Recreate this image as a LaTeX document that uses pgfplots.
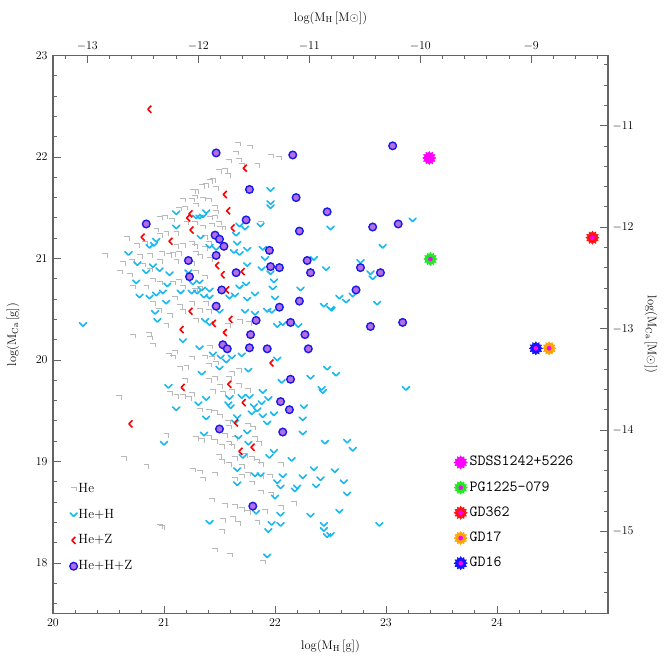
\documentclass[border=0pt]{standalone}
\usepackage{fontspec}
\usepackage{pgfplots}
\pgfplotsset{compat=1.18}
\definecolor{hegray}{RGB}{185,185,185}
\definecolor{hehcyan}{RGB}{25,185,240}
\definecolor{hezred}{RGB}{255,0,0}
\definecolor{circfill}{RGB}{180,110,225}
\definecolor{circline}{RGB}{25,25,235}
\definecolor{axisgray}{RGB}{100,100,100}
\definecolor{sdss}{RGB}{255,0,255}
\definecolor{pgg}{RGB}{30,235,30}
\definecolor{gdred}{RGB}{255,20,20}
\definecolor{gdorange}{RGB}{255,165,0}
\definecolor{gdblue}{RGB}{20,20,255}
\pgfdeclareplotmark{hemk}{%
  \pgfpathmoveto{\pgfqpoint{-\pgfplotmarksize}{0.6\pgfplotmarksize}}%
  \pgfpathlineto{\pgfqpoint{\pgfplotmarksize}{0.6\pgfplotmarksize}}%
  \pgfpathlineto{\pgfqpoint{\pgfplotmarksize}{-0.9\pgfplotmarksize}}%
  \pgfusepathqstroke}
\pgfdeclareplotmark{hehmk}{%
  \pgfpathmoveto{\pgfqpoint{-\pgfplotmarksize}{0.5\pgfplotmarksize}}%
  \pgfpathlineto{\pgfqpoint{0pt}{-0.5\pgfplotmarksize}}%
  \pgfpathlineto{\pgfqpoint{\pgfplotmarksize}{0.5\pgfplotmarksize}}%
  \pgfusepathqstroke}
\pgfdeclareplotmark{hezmk}{%
  \pgfpathmoveto{\pgfqpoint{0.5\pgfplotmarksize}{\pgfplotmarksize}}%
  \pgfpathlineto{\pgfqpoint{-0.5\pgfplotmarksize}{0pt}}%
  \pgfpathlineto{\pgfqpoint{0.5\pgfplotmarksize}{-\pgfplotmarksize}}%
  \pgfusepathqstroke}
\newcommand\bo[1]{\pgfpathlineto{\pgfpointpolar{#1}{\pgfplotmarksize}}}
\newcommand\bi[1]{\pgfpathlineto{\pgfpointpolar{#1}{0.72\pgfplotmarksize}}}
\pgfdeclareplotmark{burst}{%
  \pgfpathmoveto{\pgfpointpolar{0}{\pgfplotmarksize}}%
  \bi{15}\bo{30}\bi{45}\bo{60}\bi{75}\bo{90}\bi{105}\bo{120}\bi{135}\bo{150}\bi{165}%
  \bo{180}\bi{195}\bo{210}\bi{225}\bo{240}\bi{255}\bo{270}\bi{285}\bo{300}\bi{315}\bo{330}\bi{345}%
  \pgfpathclose\pgfusepathqfillstroke
  \begin{pgfscope}\pgfsetfillcolor{sdss}%
  \pgfpathcircle{\pgfpointorigin}{0.36\pgfplotmarksize}\pgfusepathqfill\end{pgfscope}}
\begin{document}
\begin{tikzpicture}
\useasboundingbox (-53bp,-50.3bp) rectangle (611bp,613.7bp);
\pgfplotsset{
  common/.style={scale only axis, width=555bp, height=558.2bp, at={(0,0)}, anchor=south west,
    tick align=inside, major tick length=8bp, minor tick length=4bp,
    axis line style={draw=axisgray, line width=1.1bp},
    every tick/.style={draw=axisgray, line width=0.8bp},
    tick label style={font=\fontsize{12bp}{14bp}\selectfont},
    label style={font=\fontsize{12.5bp}{14bp}\selectfont},
    clip=false},
  mylegimg/.style={legend image code/.code={\draw[##1] plot coordinates {(0bp,0bp)};}}
}
\begin{axis}[common, mylegimg,
  xmin=-13.3086, xmax=-8.3086, ymin=-15.8086, ymax=-10.3086,
  xtick={-13,...,-9}, ytick={-15,...,-11},
  minor xtick={-13.2,-13.0,...,-8.4}, minor ytick={-15.6,-15.4,...,-10.4},
  xtick pos=right, ytick pos=right,
  xticklabel style={yshift=1bp}, yticklabel style={xshift=1bp},
  xlabel={log(M$_{\rm H}$\,[M$\odot$])},
  xlabel style={at={(axis description cs:0.5,1.0672)}, anchor=center},
  ylabel={log(M$_{\rm Ca}$\,[M$\odot$])},
  ylabel style={at={(axis description cs:1.0775,0.5)}, anchor=center, rotate=-180},
]
\end{axis}
\begin{axis}[common, mylegimg,
  xmin=20, xmax=25, ymin=17.5, ymax=23,
  xtick={20,...,24}, ytick={18,...,23},
  minor xtick={20.2,20.4,...,24.8}, minor ytick={17.6,17.8,...,22.8},
  xtick pos=left, ytick pos=left,
  xticklabel style={yshift=-2bp}, yticklabel style={xshift=-2bp},
  xlabel={log(M$_{\rm H}$\,[g])},
  xlabel style={at={(axis description cs:0.5,-0.0582)}, anchor=center},
  ylabel={log(M$_{\rm Ca}$\,[g])},
  ylabel style={at={(axis description cs:-0.0721,0.5)}, anchor=center},
  legend style={at={(0.03,0.2375)}, anchor=north west, draw=none, fill=none,
    font=\fontsize{13.4bp}{16bp}\selectfont, row sep=10.8bp, inner sep=0pt,
    nodes={inner sep=1bp, text height=10bp, text depth=3bp}},
  legend cell align=left,
]
\addplot[only marks, mark=hemk, mark size=2.7bp, mark options={draw=hegray, line width=0.9bp}] table {
21.26 21.66
21.28 21.61
21.17 21.58
21.25 21.58
21.19 21.50
21.13 21.49
21.01 21.41
20.96 21.40
21.07 21.38
21.20 21.35
21.28 21.35
20.93 21.28
20.96 21.23
21.02 21.25
21.11 21.25
20.66 21.20
20.75 21.13
20.83 21.15
21.11 21.12
21.17 21.13
21.25 21.15
20.47 21.03
20.78 21.02
20.87 21.03
20.98 21.05
21.04 21.03
21.08 21.04
21.13 21.05
21.29 21.05
20.63 20.95
20.71 20.97
20.81 20.94
20.96 20.97
21.11 20.97
21.25 20.95
20.60 20.87
20.69 20.84
20.87 20.89
20.90 20.79
21.13 20.78
20.72 20.72
20.84 20.72
20.96 20.76
21.08 20.76
21.17 20.72
20.90 20.56
21.10 20.61
21.14 20.53
21.25 20.56
21.05 20.44
21.17 20.48
20.95 20.49
21.29 20.39
21.02 20.34
21.66 22.13
21.77 22.10
21.65 22.04
21.96 22.01
22.03 21.99
21.58 21.96
21.67 21.97
21.70 21.92
21.84 21.92
21.49 21.86
21.55 21.87
21.57 21.82
21.41 21.76
21.44 21.77
21.34 21.71
21.38 21.72
21.29 21.66
21.47 21.69
21.35 21.59
21.40 21.58
21.46 21.51
21.47 21.46
21.29 21.53
21.41 21.40
21.46 21.41
21.43 21.33
21.49 21.35
21.50 21.30
21.35 21.31
21.53 21.30
21.37 21.21
21.40 21.15
21.87 21.35
21.28 21.12
21.37 21.10
21.32 21.02
21.41 20.99
21.29 20.87
21.37 20.82
21.28 20.69
21.32 20.71
21.38 20.56
21.32 20.49
21.40 20.48
21.68 20.38
21.57 20.34
21.76 20.36
20.72 20.24
20.86 20.26
20.87 20.22
20.90 20.15
21.04 20.05
21.08 20.03
21.10 20.08
21.25 20.02
21.14 19.92
21.20 19.93
21.19 19.80
21.05 19.67
21.11 19.64
21.17 19.64
21.22 19.62
21.25 19.66
20.59 19.63
21.29 19.23
21.02 19.26
20.64 19.03
20.84 18.95
21.26 18.92
20.96 18.36
21.41 20.13
21.37 20.03
21.43 20.02
21.47 19.97
21.40 19.95
21.67 19.90
21.61 19.87
21.58 19.82
21.46 19.82
21.40 19.80
21.50 19.74
21.44 19.69
21.67 19.75
21.75 19.70
21.53 19.67
21.61 19.69
21.46 19.49
21.50 19.45
21.32 19.51
21.40 19.50
21.57 19.39
21.58 19.34
21.75 19.36
21.80 19.33
21.55 19.26
21.64 19.23
21.58 19.18
21.61 19.15
21.52 19.15
21.46 19.20
21.82 19.23
21.85 19.18
21.40 19.24
21.34 19.21
21.73 19.06
21.79 19.03
21.84 19.00
21.87 18.97
21.49 19.05
21.52 19.00
21.58 18.97
21.64 19.03
21.70 18.95
22.05 18.97
21.32 18.90
21.46 18.88
21.35 18.83
21.64 18.83
21.70 18.86
21.75 18.88
21.79 18.79
21.87 18.70
21.96 18.68
21.87 18.85
21.95 18.86
22.05 18.55
22.17 18.59
21.43 18.62
21.55 18.57
21.64 18.56
21.70 18.53
21.75 18.50
21.91 18.51
21.84 18.40
21.53 18.42
21.62 18.44
21.66 18.39
21.52 18.31
20.98 18.35
21.46 18.13
21.59 18.08
21.89 18.01
};
\addlegendentry{He}
\addplot[only marks, mark=hehmk, mark size=3.5bp, mark options={draw=hehcyan, line width=1.6bp, line join=round, line cap=round}] table {
21.96 21.68
21.96 21.55
21.96 21.51
21.87 21.33
21.68 21.33
21.73 21.30
21.65 21.24
21.66 21.15
21.38 21.46
21.32 21.41
21.35 21.42
21.33 21.21
21.41 21.12
21.47 21.10
21.63 21.07
21.68 21.05
21.75 21.09
21.89 21.10
21.91 21.00
21.75 20.94
21.96 20.86
21.88 20.90
22.35 21.00
22.46 20.90
21.99 20.78
21.98 20.71
22.23 20.70
21.74 20.75
21.68 20.72
21.82 20.65
22.00 20.61
21.32 20.77
21.41 20.69
21.34 20.70
21.36 20.63
21.41 20.62
21.59 20.62
21.64 20.64
21.75 20.60
21.93 20.49
21.97 20.48
22.44 20.54
22.50 20.51
21.73 20.48
21.82 20.46
21.50 20.48
21.37 20.39
21.41 20.36
22.02 20.34
22.07 20.36
22.21 20.34
23.24 21.38
22.50 21.30
22.97 21.12
22.77 20.97
22.86 20.86
22.88 20.81
22.58 20.62
22.64 20.58
22.70 20.64
22.92 20.56
22.51 20.50
22.55 19.86
23.18 19.72
22.65 19.20
22.70 19.12
22.54 18.91
22.62 18.80
22.65 18.68
22.58 18.51
22.94 18.38
22.50 18.28
21.66 18.78
21.87 18.87
21.82 18.87
22.07 18.86
22.02 18.80
22.05 18.75
22.25 18.85
22.41 18.83
22.20 18.75
22.18 18.72
22.37 18.76
22.00 18.65
21.83 18.50
22.05 18.48
22.32 18.47
21.41 18.40
21.97 18.39
22.05 18.38
21.94 18.32
22.44 18.38
22.44 18.33
22.47 18.27
21.93 18.07
20.27 20.35
21.17 20.19
21.04 19.74
21.11 19.52
21.00 19.18
21.11 21.45
21.29 21.41
21.11 21.31
20.93 21.18
20.91 21.14
20.87 21.12
20.68 21.05
20.76 20.95
20.90 20.93
20.84 20.87
20.96 20.89
21.05 20.85
21.22 20.87
20.75 20.77
21.03 20.74
21.26 20.76
21.30 20.67
20.78 20.63
20.87 20.62
20.93 20.65
20.99 20.67
21.15 20.67
21.25 20.67
21.02 20.57
20.92 20.47
20.94 20.39
21.32 20.12
21.44 20.06
21.51 20.03
21.56 19.99
21.61 20.03
21.70 20.05
21.50 19.92
21.34 19.87
21.76 19.90
22.02 20.01
22.06 19.79
22.47 19.92
22.32 19.83
22.42 19.72
22.43 19.69
21.89 19.69
21.70 19.64
21.77 19.64
21.59 19.63
21.58 19.57
21.60 19.54
21.31 19.57
21.38 19.62
21.81 19.55
21.84 19.51
21.79 19.48
21.88 19.58
21.94 19.62
21.99 19.47
21.93 19.38
21.89 19.45
21.66 19.44
21.64 19.39
22.26 19.54
22.25 19.42
22.25 19.28
22.45 19.19
21.38 19.43
21.36 19.27
21.75 19.29
21.67 19.24
21.76 19.18
21.71 19.05
21.99 19.10
21.95 19.05
22.15 19.02
21.66 18.92
22.35 18.93
};
\addlegendentry{He+H}
\addplot[only marks, mark=hezmk, mark size=3.5bp, mark options={draw=hezred, line width=1.6bp, line join=round}] table {
20.87 22.47
21.22 21.40
21.24 21.44
21.25 21.28
20.81 21.21
21.06 21.17
21.24 20.48
21.16 20.30
21.73 21.89
21.55 21.63
21.58 21.47
21.62 21.30
21.48 20.93
21.53 20.84
21.71 20.87
21.57 20.69
21.45 20.36
21.60 20.40
21.55 20.27
21.17 19.73
20.70 19.37
21.97 19.97
21.59 19.76
21.72 19.58
21.65 19.38
21.69 19.10
21.80 19.14
};
\addlegendentry{He+Z}
\addplot[only marks, mark=*, mark size=3.8bp, mark options={draw=circline, fill=circfill, line width=1.4bp}] table {
20.84 21.34
21.22 20.98
21.23 20.82
21.47 22.04
22.16 22.02
21.77 21.68
22.19 21.60
22.47 21.46
21.74 21.38
22.22 21.27
21.46 21.23
21.50 21.19
21.54 21.12
21.95 21.08
21.47 21.03
22.29 20.98
21.96 20.92
22.04 20.91
21.65 20.86
22.32 20.86
21.52 20.69
21.47 20.53
22.04 20.52
22.22 20.58
21.83 20.39
22.14 20.37
23.06 22.11
22.88 21.31
23.11 21.34
22.77 20.91
22.95 20.86
22.73 20.69
22.86 20.33
23.15 20.37
21.78 20.25
22.27 20.25
21.53 20.15
21.57 20.11
21.77 20.12
21.93 20.11
22.30 20.11
22.14 19.81
22.05 19.59
22.13 19.51
21.50 19.32
22.07 19.29
21.80 18.56
};
\addlegendentry{He+H+Z}
\end{axis}
\begin{axis}[common, mylegimg, hide axis,
  xmin=20, xmax=25, ymin=17.5, ymax=23,
  legend style={at={(0.7225,0.2875)}, anchor=north west, draw=none, fill=none,
    font=\ttfamily\fontsize{15.5bp}{17bp}\selectfont, row sep=7.2bp, inner sep=0pt,
    nodes={inner sep=2.5bp, text height=10bp, text depth=3bp}},
  legend cell align=left,
]
\addplot[only marks, mark=burst, mark size=6.5bp, mark options={draw=sdss, fill=sdss, line width=0.6bp}] coordinates {(23.39,21.99)};
\addlegendentry{SDSS1242+5226}
\addplot[only marks, mark=burst, mark size=6.5bp, mark options={draw=pgg, fill=pgg, line width=0.6bp}] coordinates {(23.40,20.995)};
\addlegendentry{PG1225-079}
\addplot[only marks, mark=burst, mark size=6.5bp, mark options={draw=gdred, fill=gdred, line width=0.6bp}] coordinates {(24.86,21.205)};
\addlegendentry{GD362}
\addplot[only marks, mark=burst, mark size=6.5bp, mark options={draw=gdorange, fill=gdorange, line width=0.6bp}] coordinates {(24.47,20.115)};
\addlegendentry{GD17}
\addplot[only marks, mark=burst, mark size=6.5bp, mark options={draw=gdblue, fill=gdblue, line width=0.6bp}] coordinates {(24.35,20.115)};
\addlegendentry{GD16}
\end{axis}
\end{tikzpicture}
\end{document}
